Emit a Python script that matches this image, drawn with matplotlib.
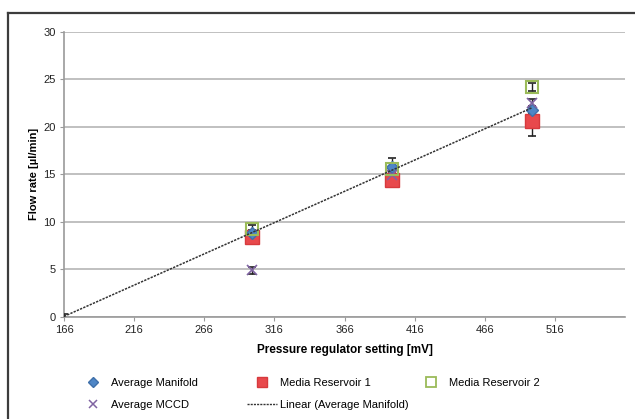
import numpy as np
import matplotlib
matplotlib.use('Agg')
import matplotlib.pyplot as plt
from matplotlib.lines import Line2D

plt.rcParams['font.family'] = ['Liberation Sans', 'DejaVu Sans']

# 数据
pressure = [300, 400, 500]
manifold = [8.8, 15.8, 21.8]
manifold_err = [0.4, 0.9, 0.4]
reservoir1 = [8.4, 14.4, 20.6]
reservoir1_err = [0.4, 0.7, 1.6]
reservoir2 = [9.3, 15.6, 24.2]
reservoir2_err = [0.4, 0.6, 0.4]
mccd = [4.9, 14.9, 22.5]
mccd_err = [0.4, 0.5, 0.4]
# 线性趋势线用的点（含原点）
fit_x = [166, 300, 400, 500]
fit_y = [0, 8.8, 15.8, 21.8]
xticks = [166, 216, 266, 316, 366, 416, 466, 516]
yticks = [0, 5, 10, 15, 20, 25, 30]

W, H = 635, 419
fig = plt.figure(figsize=(W / 100, H / 100), dpi=100)
ax = fig.add_axes([64 / W, 1 - 317 / H, (625 - 64) / W, (317 - 31.7) / H])

# 外框
fig.add_artist(Line2D([8 / W, 8 / W], [0, 1 - 13 / H], color='#3c3c3c', lw=1.6))
fig.add_artist(Line2D([8 / W, 1], [1 - 13 / H, 1 - 13 / H], color='#3c3c3c', lw=1.6))

# 误差线
eb = dict(fmt='none', ecolor='#222222', elinewidth=1, capsize=3, capthick=1.2, zorder=3)
ax.errorbar(pressure, reservoir1, yerr=reservoir1_err, **eb)
ax.errorbar(pressure, reservoir2, yerr=reservoir2_err, **eb)
ax.errorbar(pressure, manifold, yerr=manifold_err, **eb)
ax.errorbar(pressure, mccd, yerr=mccd_err, **eb)
ax.errorbar([166], [0], yerr=[0.3], **eb)

# 数据点
ax.plot(pressure, reservoir1, 's', ms=9.5, mfc='#e8494c', mec='#d73a3d', zorder=4)
ax.plot(pressure, manifold, 'D', ms=6.5, mfc='#4f86c6', mec='#3f70aa', zorder=5)
ax.plot(pressure, mccd, 'x', ms=6.5, mec='#8064a2', mew=1.2, zorder=6)
ax.plot(pressure, reservoir2, 's', ms=8.5, mfc='none', mec='#9bbb59', mew=1.5, zorder=7)

# 线性趋势线
k, b = np.polyfit(fit_x, fit_y, 1)
tx = np.array([fit_x[0], fit_x[-1]])
ax.plot(tx, k * tx + b, color='#333333', lw=1.1, ls=(0, (1.5, 0.8)), zorder=8)

ax.set_xlim(166, 566)
ax.set_ylim(0, 30)
ax.set_xticks(xticks)
ax.set_yticks(yticks)
ax.grid(axis='y', color='#b5b5b5', lw=1.2)
ax.set_axisbelow(True)
for s in ['top', 'right']:
    ax.spines[s].set_visible(False)
for s in ['left', 'bottom']:
    ax.spines[s].set_color('#9a9a9a')
    ax.spines[s].set_linewidth(1.2)
ax.tick_params(axis='both', direction='out', length=3, color='#9a9a9a', labelsize=8, pad=3,
               labelcolor='#222222')
ax.set_xlabel('Pressure regulator setting [mV]', fontsize=8.5, fontweight='bold', labelpad=6)
ax.set_ylabel('Flow rate [µl/min]', fontsize=8, fontweight='bold', labelpad=3)

# 图例，三列分别放置
h_man = Line2D([], [], ls='none', marker='D', ms=5, mfc='#4f86c6', mec='#3f70aa')
h_mccd = Line2D([], [], ls='none', marker='x', ms=5.5, mec='#8064a2', mew=1.1)
h_r1 = Line2D([], [], ls='none', marker='s', ms=6.5, mfc='#e8494c', mec='#d73a3d')
h_lin = Line2D([], [], color='#333333', lw=1, ls=(0, (1.5, 0.8)))
h_r2 = Line2D([], [], ls='none', marker='s', ms=6.5, mfc='white', mec='#9bbb59', mew=1.3)

leg_kw = dict(loc='upper left', frameon=False, fontsize=8, borderpad=0, borderaxespad=0,
              handlelength=2.7, handletextpad=0.3, labelspacing=1.1)
cols = [([h_man, h_mccd], ['Average Manifold', 'Average MCCD'], 78),
        ([h_r1, h_lin], ['Media Reservoir 1', 'Linear (Average Manifold)'], 247),
        ([h_r2], ['Media Reservoir 2'], 416)]
for hs, ls, x0 in cols:
    fig.legend(hs, ls, bbox_to_anchor=(x0 / W, 1 - 378 / H), **leg_kw)

fig.savefig('out.png', dpi=100)
